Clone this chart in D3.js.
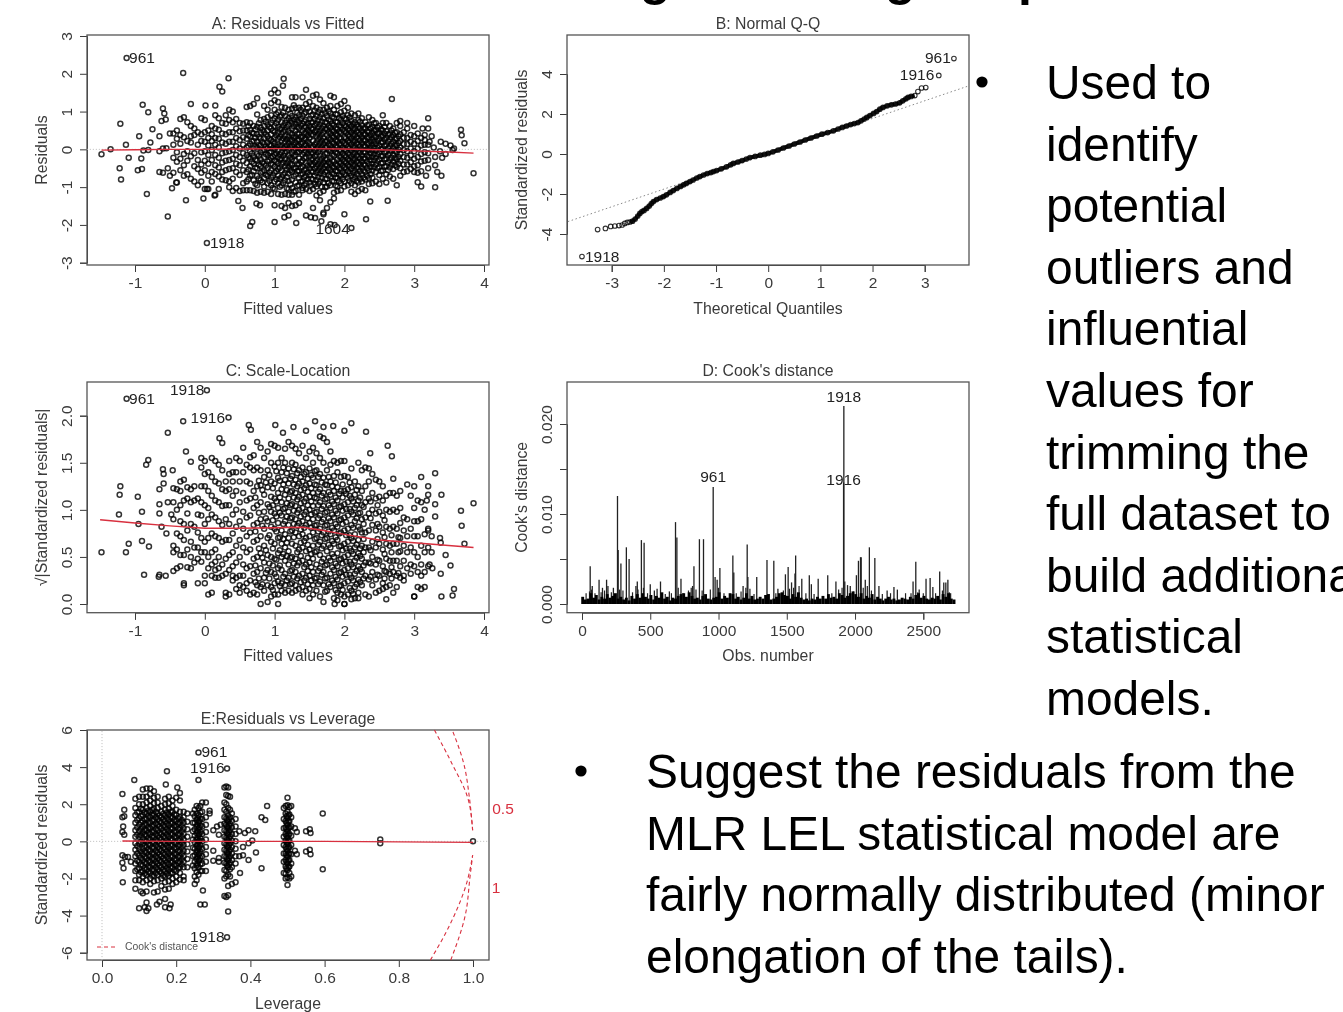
<!DOCTYPE html>
<html><head><meta charset="utf-8"><script src="https://cdn.jsdelivr.net/npm/d3@7"></script>
<style>html,body{margin:0;padding:0;background:#fff;overflow:hidden}svg{display:block}text{font-family:"Liberation Sans",Arial,sans-serif}</style></head><body>
<script>
const fittedTicks=[-1,0,1,2,3,4];
const residLabels=[[-1.12,2.42,"961",2.5,5],[.03,-2.48,"1918",3,5],[2.1,-2.08,"1604",-36,6]];
const residSparse=[[-1.12,2.42],[.03,-2.48],[2.1,-2.08],[-.31,2.02],[.34,1.88],[.21,1.66],[.25,1.53],[1.13,1.87],[1.12,1.68],[-.89,1.18],[-.2,1.2],[.01,1.16],[.15,1.16],[-.81,.98],[-.6,1.08],[-.58,.95],[-.62,.75],[-.56,.79],[-1.21,.68],[-.75,.53],[-.94,.35],[-.65,.35],[-1.13,.12],[-1.35,0],[-1.48,-.13],[-1.09,-.22],[-.91,-.24],[-1.22,-.5],[-1.2,-.8],[-.96,-.55],[-.9,-.52],[-.83,-1.18],[-.53,-1.78],[-.27,-1.35],[-.65,-.6],[-.6,-.62],[-.53,-.5],[-.5,-.7],[-.47,-1.03],[-.41,-.88],[-.78,.18],[-.88,-.03],[-.81,-.02],[-.65,-.05],[-.6,.02],[-.55,.03],[-.5,.42],[3.67,.52],[3.68,.37],[3.72,.16],[3.85,-.63],[3.3,-1],[3.39,-.7],[3.1,-.98],[3.05,-.87],[3.2,.82],[3,.62],[2.68,1.33],[2.62,-1.36],[2.31,-1.85],[2.37,-1.38],[2,-1.72],[.65,-2.03],[.68,-1.92],[.48,-1.37],[.54,-1.55],[1,-1.92],[1.31,-1.95],[1.14,-1.8],[1.2,-1.75],[1.45,-1.75],[1.52,-1.8],[1.58,-1.82],[1.67,-1.9],[1.8,-1.98],[1.86,-2],[1.7,-1.68],[-.02,-1.3],[.14,-1.22],[.03,-1.05],[.74,-1.43],[.79,-1.48],[3.38,.2],[3.45,.15],[3.52,.1],[3.57,.02],[3.55,-.02],[3.45,-.12],[3.4,-.22],[3.37,-.05],[3.33,-.6],[3.3,-.42],[3.2,-.5],[3.17,-.7],[3.22,.2],[3.25,.35],[3.2,.55],[3.28,.05],[3.3,-.2],[3.12,.55],[3.15,.25],[2.55,.9],[2.9,.7],[2.8,.75]];
const residColumns=[
[-.45,[.42,.12,-.22,-.62]],[-.4,[.5,.28,-.08,-.33,-.88]],[-.35,[.8,.38,.15,-.25,-.55]],[-.3,[.85,.32,-.12,-.42,-.7]],[-.25,[.72,.22,-.05,-.3,-.66]],[-.2,[.62,.35,.18,-.18,-.78]],[-.15,[.55,.38,-.1,-.45,-.85]],[-.1,[.45,.12,-.28,-.52,-.95]],[-.05,[.82,.4,.22,-.08,-.4,-.62,-.85]],
[0,[.78,.45,.2,-.05,-.3,-.55,-1.05]],[.05,[.5,.3,.1,-.15,-.38,-.7,-1.05]],[.1,[.62,.4,.22,-.02,-.28,-.6,-.85]],[.15,[.9,.55,.3,.12,-.15,-.42,-.65,-1.2]],[.2,[.82,.52,.28,.05,-.22,-.48,-.72,-1.05]],[.25,[.7,.42,.18,-.1,-.35,-.6,-.8]],[.3,[.9,.68,.4,.15,-.08,-.3,-.55,-.82]],[.35,[1.05,.78,.45,.2,-.05,-.28,-.52,-.85,-1]],
[.4,[1,.72,.45,.2,-.02,-.25,-.5,-.78,-1.1]],[.45,[.8,.55,.3,.08,-.15,-.38,-.6,-1.02]],[.5,[.7,.48,.25,.02,-.2,-.42,-.68,-1.1]],[.55,[.68,.5,.32,.12,-.1,-.3,-.55,-.9,-1.08]],[.6,[1.12,.72,.5,.28,.05,-.15,-.36,-.6,-.85,-1.08]],[.65,[1.15,.7,.52,.35,.15,-.05,-.25,-.45,-.7,-1.08]],[.7,[1.2,.62,.42,.22,.02,-.18,-.38,-.58,-.82,-1.1]],[.75,[1.35,.92,.6,.4,.2,.05,-.12,-.3,-.5,-.7,-.95,-1.15]],[.8,[.78,.58,.44,.28,.1,-.08,-.26,-.44,-.62,-.82,-1.12]],[.85,[1.15,.8,.62,.46,.3,.14,-.02,-.2,-.38,-.56,-.76,-.98,-1.15]],[.9,[1.05,.85,.66,.5,.34,.18,.02,-.15,-.32,-.5,-.7,-.9,-1.12]],
[.95,[1.48,1.22,.9,.7,.55,.4,.25,.1,-.06,-.22,-.38,-.55,-.75,-.95,-1.18]],[1,[1.58,1.3,1.05,.82,.62,.46,.3,.15,0,-.15,-.3,-.46,-.62,-.85,-1.05,-1.48]],[1.05,[1.5,1.25,.98,.78,.6,.44,.28,.12,-.04,-.2,-.36,-.52,-.7,-.9,-1.18]],[1.1,[1.12,.9,.72,.56,.4,.24,.08,-.08,-.24,-.4,-.56,-.74,-.95,-1.2,-1.5]],[1.15,[1.1,.88,.7,.52,.36,.2,.05,-.1,-.26,-.44,-.62,-.82,-1.18,-1.55]],[1.2,[1.05,.82,.66,.5,.34,.18,.02,-.14,-.3,-.46,-.64,-.84,-1.05,-1.2,-1.42]],[1.25,[1.38,1.08,.88,.7,.54,.38,.22,.06,-.1,-.26,-.42,-.6,-.8,-1.02,-1.2,-1.5]],[1.3,[1.38,1.1,.85,.68,.5,.34,.18,.02,-.14,-.3,-.48,-.66,-.88,-1.1,-1.48]],[1.35,[1.1,.9,.72,.56,.4,.24,.08,-.08,-.24,-.4,-.58,-.76,-.95,-1.2,-1.42]],[1.4,[1.38,1.1,.88,.68,.5,.34,.18,.02,-.14,-.3,-.46,-.64,-.84,-1.02,-1.08]],[1.45,[1.58,1.2,.98,.78,.6,.44,.28,.12,-.04,-.2,-.36,-.52,-.7,-.9,-1.05]],[1.5,[1.25,1,.8,.62,.46,.3,.14,-.02,-.18,-.34,-.5,-.68,-.88,-1.1]],[1.55,[1.42,1.15,.92,.72,.54,.38,.22,.06,-.1,-.26,-.42,-.6,-.8,-1.05,-1.55]],[1.6,[1.45,1.1,.88,.68,.5,.34,.18,.02,-.14,-.3,-.46,-.62,-.82,-.98,-1.22]],[1.65,[1.32,1.05,.85,.66,.48,.32,.16,0,-.16,-.32,-.48,-.64,-.85,-1.15,-1.35]],[1.7,[1.22,1.05,.82,.62,.46,.3,.14,-.02,-.18,-.34,-.5,-.66,-.88,-1.1,-1.72]],[1.75,[1.1,.88,.7,.54,.38,.22,.06,-.1,-.26,-.42,-.58,-.78,-.98,-1.55]],
[1.8,[1.42,1.15,.95,.75,.58,.42,.26,.1,-.06,-.22,-.38,-.54,-.72,-.95,-1.4]],[1.85,[1.38,1.05,.82,.64,.48,.32,.16,0,-.16,-.32,-.48,-.66,-.85,-1.15,-1.3]],[1.9,[1.15,.92,.72,.54,.38,.22,.06,-.1,-.26,-.42,-.58,-.76,-.98,-1.1]],[1.95,[1.2,.98,.78,.6,.44,.28,.12,-.04,-.2,-.36,-.52,-.7,-.9,-1.08]],[2,[1.28,1.02,.82,.64,.48,.32,.16,0,-.16,-.32,-.48,-.66,-.85,-.98]],[2.05,[1.1,.9,.7,.54,.38,.22,.06,-.1,-.26,-.42,-.58,-.75,-.95]],[2.1,[.95,.76,.6,.44,.28,.12,-.04,-.2,-.36,-.52,-.7,-.9,-1.12]],[2.15,[.9,.72,.56,.4,.24,.08,-.08,-.24,-.4,-.56,-.74,-.95,-1.18]],[2.2,[.95,.78,.6,.44,.28,.12,-.04,-.2,-.36,-.52,-.7,-.88,-1.1]],[2.25,[.82,.64,.48,.32,.16,0,-.16,-.32,-.48,-.66,-.85,-1.05]],[2.3,[.72,.56,.4,.24,.08,-.08,-.24,-.42,-.6,-.8,-1.08]],[2.35,[.85,.65,.46,.3,.14,-.02,-.2,-.38,-.56,-.76,-.92]],[2.4,[.78,.6,.44,.28,.12,-.04,-.2,-.38,-.56,-.75,-.9]],[2.45,[.7,.5,.32,.14,-.04,-.22,-.4,-.6,-.85]],[2.5,[.62,.44,.28,.1,-.08,-.26,-.46,-.68,-.92]],[2.55,[.7,.5,.34,.18,0,-.18,-.36,-.56,-.78]],[2.6,[.7,.48,.3,.12,-.06,-.24,-.44,-.66,-.88]],[2.65,[.62,.42,.26,.08,-.1,-.28,-.48,-.72]],[2.7,[.55,.38,.2,.04,-.14,-.32,-.52,-.78]],[2.75,[.7,.45,.28,.1,-.08,-.26,-.46,-.95]],[2.8,[.62,.4,.22,.05,-.12,-.3,-.5,-.7]],[2.85,[.45,.3,.14,-.02,-.2,-.4,-.6]],
[2.9,[.55,.3,.14,-.05,-.22,-.4,-.58]],[2.95,[.38,.2,.02,-.16,-.34,-.52]],[3,[.35,.15,-.05,-.25,-.45,-.6]],[3.05,[.42,.22,.02,-.2,-.42,-.62]],[3.1,[.3,.1,-.12,-.32,-.58]],[3.15,[.38,.12,-.08,-.3]],[3.2,[.12,-.1,-.28]]];
const residInner=[
[.625,[.61,.37,.09,-.21,-.53,-.79]],[.675,[.44,.21,-.11,-.33,-.67]],[.725,[.53,.31,.07,-.27,-.49,-.91]],[.775,[.69,.33,.12,-.17,-.41,-.77]],[.825,[.51,.19,-.03,-.35,-.59,-.87]],[.875,[.73,.39,.07,-.13,-.43,-.67]],[.925,[.59,.27,.11,-.09,-.29,-.61,-.83]],[.975,[.77,.49,.21,.03,-.19,-.41,-.69,-1.02]],[1.025,[.93,.69,.37,.07,-.11,-.33,-.57,-.79]],[1.075,[.86,.53,.33,.09,-.13,-.27,-.49,-.78,-.99]],[1.125,[.97,.63,.46,.29,.03,-.17,-.35,-.67,-.89]],[1.175,[.77,.59,.27,.11,-.06,-.37,-.53,-.73,-1.03]],[1.225,[.95,.75,.43,.26,.09,-.22,-.38,-.55,-.93]],[1.275,[1.17,.79,.61,.31,.13,-.03,-.18,-.51,-.71,-1.12]],[1.325,[.97,.77,.59,.41,.26,.1,-.07,-.39,-.57,-.97]],[1.375,[1.04,.81,.63,.33,.15,-.01,-.33,-.49,-.67,-.86]],[1.425,[.94,.74,.57,.42,.27,.1,-.08,-.23,-.55,-.74,-.95]],[1.475,[1.09,.69,.52,.37,.21,.05,-.11,-.43,-.61,-.79]],[1.525,[.89,.71,.55,.39,.07,-.09,-.26,-.41,-.58,-.78,-.96]],[1.575,[1.02,.8,.63,.46,.13,-.03,-.18,-.34,-.51,-.7,-.92]],[1.625,[.98,.77,.59,.41,.26,.09,-.07,-.39,-.55,-.73,-.91]],[1.675,[.93,.74,.56,.39,.23,.07,-.25,-.41,-.57,-.75,-.99]],[1.725,[.96,.72,.54,.21,.05,-.11,-.27,-.43,-.6,-.79,-1]],[1.775,[1.01,.79,.62,.46,.3,.14,-.02,-.34,-.5,-.68,-.89]],[1.825,[.86,.67,.5,.34,.18,.02,-.14,-.3,-.46,-.63,-.84]],[1.875,[.93,.73,.56,.4,.24,.08,-.08,-.4,-.57,-.75,-.96]],[1.925,[.83,.63,.46,.3,.14,-.02,-.18,-.34,-.5,-.67,-.84]],[1.975,[.88,.69,.52,.2,.04,-.12,-.28,-.44,-.61,-.79]],[2.025,[.8,.62,.46,.3,.14,-.02,-.18,-.34,-.5,-.67]],[2.075,[.84,.66,.5,.34,.18,.02,-.14,-.3,-.46,-.63,-.83]],[2.125,[.68,.52,.36,.2,.04,-.12,-.28,-.44,-.61,-.8]],[2.175,[.65,.48,.32,.16,0,-.16,-.32,-.48,-.65,-.84]],[2.225,[.73,.56,.4,.24,.08,-.08,-.24,-.4,-.58,-.78]],[2.275,[.56,.4,.24,.08,-.08,-.24,-.4,-.56,-.75]],[2.325,[.64,.48,.32,.16,0,-.16,-.32,-.5,-.7]],[2.375,[.55,.37,.21,.05,-.11,-.29,-.47,-.66]],[2.425,[.69,.52,.36,.2,.04,-.12,-.29,-.47]],[2.475,[.58,.41,.23,.05,-.13,-.31,-.5]],[2.525,[.53,.36,.19,.01,-.17,-.37,-.57]],[2.575,[.6,.42,.26,.09,-.09,-.27,-.46]],[2.625,[.39,.21,.03,-.15,-.35,-.55]],[2.675,[.5,.33,.15,-.03,-.22,-.4]],[2.725,[.44,.29,.12,-.05,-.23,-.42]],[2.775,[.35,.17,-.01,-.2,-.38]]];
const residSmooth=[[-1.48,-.02],[-1,-.01],[-.5,0],[0,0],[.5,.01],[1,.02],[1.5,.02],[2,.01],[2.5,-.01],[3,-.04],[3.5,-.07],[3.85,-.1]];
const qqPoints=[[-3.57,-5.13],[-3.27,-3.78],[-3.12,-3.72],[-3.02,-3.62],[-2.94,-3.6],[-2.86,-3.58],[-2.8,-3.55],[-2.75,-3.47],[-2.7,-3.42],[-2.65,-3.4],[-2.6,-3.36],[-2.55,-3.25],[-2.5,-3.1],[-2.46,-2.97],[-2.42,-2.88],[-2.38,-2.82],[-2.33,-2.72],[-2.28,-2.6],[-2.24,-2.48],[-2.2,-2.38],[-2.14,-2.28],[-2.07,-2.2],[-2.01,-2.13],[-1.95,-2.04],[-1.88,-1.92],[-1.82,-1.83],[-1.75,-1.72],[-1.68,-1.62],[-1.62,-1.54],[-1.57,-1.47],[-1.5,-1.38],[-1.44,-1.3],[-1.37,-1.2],[-1.31,-1.13],[-1.24,-1.05],[-1.17,-.98],[-1.1,-.93],[-1.05,-.88],[-.99,-.83],[-.9,-.74],[-.8,-.64],[-.72,-.54],[-.67,-.47],[-.58,-.4],[-.5,-.33],[-.42,-.25],[-.35,-.18],[-.25,-.12],[-.15,-.06],[-.07,-.02],[0,.03],[.09,.11],[.19,.2],[.29,.3],[.4,.4],[.5,.5],[.61,.6],[.71,.7],[.82,.8],[.93,.9],[1.03,.99],[1.14,1.07],[1.25,1.16],[1.34,1.25],[1.42,1.33],[1.5,1.4],[1.58,1.47],[1.65,1.52],[1.72,1.57],[1.78,1.66],[1.84,1.75],[1.89,1.83],[1.95,1.92],[2.02,2.03],[2.08,2.12],[2.14,2.24],[2.2,2.33],[2.28,2.41],[2.36,2.46],[2.44,2.5],[2.52,2.56],[2.58,2.66],[2.64,2.76],[2.68,2.83],[2.74,2.88],[2.81,2.92],[2.87,3.12],[2.94,3.3],[3.02,3.32],[3.27,3.93],[3.56,4.77]];
const qqLine=[[-3.84,-3.38],[3.86,3.42]];
const qqLabels=[[3.56,4.77,"961",-29,4],[3.27,3.93,"1916",-39,5],[-3.57,-5.13,"1918",3,5]];
const scaleSparse=[[-1.12,2.18],[.03,2.27],[.34,1.98],[-.31,1.94],[-.53,1.82],[.63,1.9],[.66,1.85],[1.01,1.9],[1.12,1.82],[1.27,1.88],[1.45,1.84],[1.58,1.94],[1.7,1.88],[1.84,1.89],[2.1,1.92],[2,1.84],[2.31,1.83],[2.37,1.6],[2.62,1.68],[2.68,1.57],[.21,1.76],[.25,1.71],[-.27,1.62],[-.84,1.48],[-.81,1.53],[-.2,1.51],[-1.21,1.25],[-1.22,1.16],[-.96,1.14],[-.9,.98],[-1.23,.95],[-.95,.85],[-1.09,.64],[-1.13,.55],[-.9,.67],[-.8,.61],[-1.48,.55],[-.87,.31],[-.66,.29],[-.65,.31],[-.56,.3],[-.6,1.43],[-.59,1.38],[-.59,1.28],[-.46,1.42],[3.67,.99],[3.68,.83],[3.72,.64],[3.85,1.07],[3.38,.32],[3.45,.52],[3.52,.41],[3.57,.16],[3.55,.09],[3.39,.08],[3,.08],[3.3,1.39],[3.1,1.35],[3.39,1.16],[3.25,.55],[3.3,1.06],[3.3,.93],[3.37,.7],[3.38,.65],[3.2,.8],[3.25,.72],[3.22,.42],[3.26,.38],[3.18,1.1],[3.2,1.25],[.8,0],[1.05,0],[1.86,0],[2,0],[-.55,.75],[-.62,.82],[-.65,.96],[-.65,1.06],[-.65,1.22],[-.53,1.08],[-.48,.95]];
const scaleColumns=[
[-.45,[1.23,1.08,.9,.62,.55,.35]],[-.4,[1.22,1,.75,.58,.38]],[-.35,[1.3,1.2,1.05,.88,.72,.52,.4]],[-.3,[1.32,1.1,.85,.68,.52,.22,.2]],[-.25,[1.24,1.12,.96,.78,.58,.39]],[-.2,[1.22,1.08,.85,.66,.5,.38]],[-.15,[1.25,1.1,.82,.6,.44]],[-.1,[1.12,.95,.76,.6,.48,.22]],[-.05,[1.55,1.45,1.25,1.08,.94,.7,.55,.45]],[0,[1.52,1.38,1.25,1.05,.85,.66,.55,.3,.22]],[.05,[1.4,1.2,1.02,.9,.7,.5,.38,.1]],[.1,[1.55,1.35,1.15,.95,.75,.55,.42,.3,.12]],[.15,[1.52,1.3,1.1,.92,.72,.58,.45,.36,.28]],[.2,[1.48,1.28,1.08,.88,.7,.5,.38,.28]],[.25,[1.42,1.22,1.04,.84,.66,.42,.3]],[.3,[1.3,1.2,1.05,.9,.68,.48,.32,.12,.08]],[.35,[1.52,1.38,1.22,1.05,.85,.68,.52,.36,.1]],[.4,[1.4,1.3,1.15,.95,.75,.55,.4,.3,.25]],[.45,[1.55,1.4,1.2,1,.82,.62,.44,.28,.16]],[.5,[1.52,1.3,1.08,.88,.68,.5,.3,.2,.12]],[.55,[1.66,1.4,1.18,.98,.8,.6,.42,.3,.18]],[.6,[1.48,1.3,1.1,.92,.72,.55,.38,.22,.14]],[.65,[1.56,1.45,1.28,1.12,.94,.76,.58,.4,.25,.1]],[.7,[1.58,1.42,1.2,1.02,.84,.66,.48,.32,.12]],[.75,[1.72,1.45,1.25,1.05,.86,.68,.5,.34,.2,.1]],[.8,[1.66,1.42,1.26,1.08,.9,.72,.54,.38,.18]],[.85,[1.55,1.35,1.16,.98,.8,.62,.44,.28,.14]],[.9,[1.62,1.42,1.24,1.06,.88,.7,.52,.36,.2,.02]],[.95,[1.7,1.5,1.3,1.14,.98,.82,.66,.5,.34,.18,.08]],[1,[1.68,1.46,1.28,1.12,.96,.8,.64,.48,.32,.22,.1]],[1.05,[1.66,1.5,1.34,1.18,1.02,.86,.7,.54,.38,.24,.1]],[1.1,[1.55,1.4,1.22,1.08,.94,.78,.64,.5,.36,.22,.14]],[1.15,[1.65,1.5,1.32,1.16,1.02,.88,.74,.6,.46,.32,.2,.12]],[1.2,[1.72,1.44,1.28,1.12,.98,.84,.7,.56,.42,.28,.14]],[1.25,[1.68,1.5,1.36,1.2,1.06,.92,.78,.64,.5,.36,.22,.12]],[1.3,[1.65,1.48,1.32,1.18,1.04,.9,.76,.62,.48,.34,.2,.14]],[1.35,[1.6,1.42,1.28,1.14,1,.86,.72,.58,.44,.3,.16]],[1.4,[1.68,1.45,1.3,1.16,1.02,.88,.74,.6,.46,.32,.18,.1]],[1.45,[1.55,1.4,1.26,1.12,.98,.84,.7,.56,.42,.28,.14]],[1.5,[1.62,1.44,1.28,1.14,1,.86,.72,.58,.44,.3,.16,.06]],[1.55,[1.66,1.5,1.34,1.18,1.04,.9,.76,.62,.48,.34,.2,.1]],[1.6,[1.6,1.42,1.26,1.12,.98,.84,.7,.56,.42,.28,.14]],[1.65,[1.78,1.55,1.38,1.22,1.08,.94,.8,.66,.52,.38,.24,.08]],[1.7,[1.76,1.5,1.34,1.18,1.04,.9,.76,.62,.48,.34,.2,.02]],[1.75,[1.72,1.42,1.26,1.12,.98,.84,.7,.56,.42,.28,.14]],[1.8,[1.62,1.48,1.3,1.16,1.02,.88,.74,.6,.46,.32,.18]],[1.85,[1.52,1.36,1.2,1.06,.92,.78,.64,.5,.36,.22,.06]],[1.9,[1.5,1.4,1.24,1.1,.96,.82,.68,.54,.4,.26,.12,.04]],[1.95,[1.52,1.35,1.2,1.04,.9,.76,.62,.48,.34,.2,.1]],[2,[1.52,1.36,1.2,1.06,.92,.78,.64,.5,.36,.22,.08,0]],[2.05,[1.35,1.22,1.08,.94,.8,.66,.52,.38,.24,.1]],[2.1,[1.44,1.24,1.12,.98,.84,.7,.56,.42,.28,.14,.05]],[2.15,[1.3,1.16,1.02,.88,.74,.6,.46,.32,.18,.06]],[2.2,[1.5,1.25,1.1,.96,.82,.68,.54,.4,.26,.12,.06]],[2.25,[1.42,1.2,1.05,.9,.76,.62,.48,.34,.2]],[2.3,[1.45,1.25,1.08,.92,.76,.6,.44,.3,.1]],[2.35,[1.44,1.3,1.12,.96,.78,.6,.44,.26,.08]],[2.4,[1.38,1.18,1,.84,.66,.5,.34,.2]],[2.45,[1.32,1.12,.96,.78,.6,.42,.26,.12]],[2.5,[1.3,1.14,.98,.82,.64,.46,.3,.14]],[2.55,[1.25,1.1,.94,.76,.58,.4,.22,.16]],[2.6,[1.15,1,.82,.64,.48,.34,.18,.05]],[2.65,[1.18,.98,.8,.62,.46,.32,.2]],[2.7,[1.33,1.18,1,.82,.64,.46,.34,.12]],[2.75,[1.15,.98,.8,.64,.46,.3,.18]],[2.8,[1.2,1.02,.86,.7,.56,.4,.28]],[2.85,[.92,.78,.62,.46,.3,.25]],[2.9,[1.27,.9,.72,.55,.38]],[2.95,[1.15,.8,.6,.42,.32]],[3,[1.25,1.02,.88,.72,.55,.4,.08]],[3.05,[1.1,.88,.72,.5,.34,.18]],[3.1,[1.08,.9,.62,.42,.3,.16]],[3.15,[1,.74,.55,.34,.18]],[3.2,[1.16,.78,.6,.4]]];
const scaleInner=[
[.725,[1.13,.77,.41,.23]],[.775,[1.31,.97,.59,.27]],[.825,[1.21,.83,.49,.21]],[.875,[1.29,.91,.57,.33]],[.925,[1.37,1.03,.73,.43,.27]],[.975,[1.23,1.05,.89,.59,.41,.15]],[1.025,[1.41,1.09,.93,.77,.47,.29]],[1.075,[1.31,1.13,.97,.71,.57,.41,.19]],[1.125,[1.45,1.27,1.01,.85,.69,.53,.29]],[1.175,[1.39,1.21,1.07,.93,.65,.51,.25]],[1.225,[1.33,1.19,1.05,.91,.77,.49,.35,.21]],[1.275,[1.43,1.27,1.13,.99,.85,.71,.43,.29]],[1.325,[1.39,1.25,1.11,.97,.83,.55,.41,.27]],[1.375,[1.35,1.21,1.07,.93,.79,.65,.51,.23]],[1.425,[1.38,1.23,1.09,.95,.81,.67,.39,.25]],[1.475,[1.33,1.19,1.05,.91,.63,.49,.35,.21]],[1.525,[1.37,1.23,1.09,.95,.81,.53,.39,.25]],[1.575,[1.41,1.27,1.13,.97,.83,.69,.55,.27]],[1.625,[1.35,1.19,1.05,.91,.77,.63,.35,.21]],[1.675,[1.29,1.15,1.01,.87,.73,.59,.45,.31]],[1.725,[1.27,1.11,.97,.83,.69,.41,.27,.13]],[1.775,[1.35,1.19,1.05,.91,.77,.63,.49,.21]],[1.825,[1.25,1.09,.95,.81,.67,.53,.39,.25]],[1.875,[1.29,1.13,.99,.85,.71,.43,.29,.15]],[1.925,[1.17,1.03,.89,.75,.61,.47,.33,.19]],[1.975,[1.27,1.13,.99,.85,.57,.43,.29,.15]],[2.025,[1.17,1.01,.87,.73,.59,.45,.31]],[2.075,[1.29,1.15,1.01,.73,.59,.45,.31,.17]],[2.125,[1.09,.95,.81,.67,.53,.39,.25,.11]],[2.175,[1.21,1.05,.91,.63,.49,.35,.21]],[2.225,[1.13,.97,.79,.59,.51,.37,.23]],[2.275,[1.03,.85,.69,.55,.41,.27]],[2.375,[1.09,.91,.57,.43,.29]],[2.475,[1.05,.85,.69,.47,.31]],[2.575,[.89,.71,.53,.35,.27]],[2.675,[.73,.55,.39,.27]],[2.775,[.71,.55,.33]]];
const scaleSmooth=[[-1.5,.895],[-1,.86],[-.5,.83],[0,.805],[.5,.805],[1,.81],[1.4,.815],[1.7,.78],[2,.74],[2.5,.68],[3,.65],[3.85,.6]];
const scaleLabels=[[-1.12,2.18,"961",2.5,5],[.03,2.27,"1918",-37,5],[.34,1.98,"1916",-38,5]];
const cookTicks=[0,.005,.01,.015,.02];
const cookSpikes=[[260,.012],[265,.006],[285,.0045],[325,.0063],[345,.005],[60,.0042],[75,.002],[125,.0027],[150,.0018],[180,.0027],[190,.002],[230,.0018],[435,.0071],[455,.0068],[395,.002],[405,.0025],[500,.0022],[530,.0015],[550,.0017],[575,.0025],[685,.0091],[695,.0074],[640,.0014],[725,.0028],[820,.0042],[810,.002],[860,.0072],[890,.0072],[961,.013],[975,.003],[990,.0027],[1010,.004],[1105,.0054],[1112,.0035],[1180,.002],[1210,.0066],[1215,.003],[1280,.003],[1355,.0049],[1405,.0048],[1435,.0017],[1490,.0033],[1510,.0041],[1535,.0024],[1565,.0054],[1560,.0034],[1610,.0028],[1665,.0032],[1680,.0022],[1730,.0028],[1800,.0032],[1860,.0025],[1916,.0135],[1918,.022],[1925,.0025],[1945,.0021],[1965,.002],[2010,.0032],[2025,.0048],[2040,.0052],[2045,.0052],[2075,.0027],[2105,.0063],[2145,.0051],[2175,.002],[2235,.0015],[2285,.0019],[2310,.0016],[2425,.0025],[2445,.0047],[2470,.0016],[2520,.0028],[2550,.0029],[2570,.0019],[2620,.0036],[2650,.0024],[2665,.0024],[2680,.0027],[2700,.0012]];
const cookMid=[[30,.0012],[55,.0014],[70,.0016],[95,.0012],[140,.0013],[165,.0015],[215,.0013],[275,.0016],[300,.0015],[370,.0013],[410,.0016],[450,.0018],[480,.0012],[610,.0011],[655,.0012],[705,.0018],[740,.0012],[780,.0015],[800,.0018],[835,.0016],[880,.0015],[940,.0016],[1000,.0018],[1040,.0012],[1130,.0012],[1165,.0014],[1200,.0018],[1230,.0017],[1260,.0011],[1370,.0011],[1420,.0012],[1475,.0015],[1520,.0017],[1550,.0018],[1590,.002],[1640,.0012],[1700,.0011],[1830,.0012],[1880,.0016],[1905,.0018],[1990,.0014],[2060,.0018],[2090,.002],[2120,.0015],[2200,.0011],[2260,.0012],[2370,.0012],[2410,.0012],[2460,.0013],[2500,.0012],[2590,.0012],[2640,.0015],[2690,.0013]];
const cookBase=[.0008,.0005,.0006,.0012,.0007,.001,.0005,.0008,.0006,.0011,.0007,.0009,.0012,.0006,.0008,.0005,.0007,.0004,.0009,.0006,.0011,.0007,.0012,.0008,.0006,.001,.0005,.0009,.0007,.0013,.0006,.0008,.0004,.0007,.0006,.0009,.0011,.0012,.0008,.0013,.0009,.0006,.0007,.0005,.0009,.0011,.0006,.0005,.0007,.0008,.0013,.0006,.0009,.0007,.0012,.0011,.0006,.0008,.0005,.0007,.0012,.0006,.0009,.0005,.0006,.0008,.0006,.001,.0011,.0005,.0006,.0008,.0012,.0013,.001,.0009,.0006,.0011,.0008,.0013,.0007,.0005,.0006,.0004,.0006,.0005,.0008,.0006,.0009,.0006,.0011,.0007,.0008,.0006,.0012,.001,.0007,.0009,.0012,.0014,.0011,.0008,.0012,.0006,.0009,.0007,.0011,.0005,.0008,.0006,.0004,.0006,.0008,.0005,.0006,.0004,.0005,.0007,.0006,.0005,.0008,.0006,.001,.0012,.0007,.0009,.0006,.0005,.0007,.0006,.0009,.0005,.0011,.0008,.0012,.0006,.0005];
const cookLabels=[[1918,.022,"1918",0,-4],[961,.013,"961",0,-5],[1916,.0135,"1916",0,2]];
const leverageSparse=[[.26,4.79],[.337,3.93],[.337,-5.17],[.175,3.78],[.087,3.3],[.172,3.07],[.26,3.3],[.203,2.9],[.055,2.55],[.06,1.7],[.055,1.3],[.06,1.35],[.057,.8],[.055,.5],[.06,.35],[.055,-.75],[.062,-.85],[.055,-1.15],[.058,-1.45],[.056,-2.2],[.07,-.85],[.078,-1.1],[.09,-2.55],[.105,-2.7],[.1,-3.6],[.115,-3.55],[.12,-3.75],[.125,-3.6],[.12,-3.3],[.148,-3.4],[.155,-3.25],[.17,-3.1],[.17,-3.55],[.185,-3.4],[.182,-3.6],[.265,-3.4],[.277,-3.4],[.272,-2.65],[.34,-3.78],[.34,-2.4],[.35,-2.3],[.36,-2.2],[.372,-1.7],[.43,-1.45],[.445,1.9],[.43,1.3],[.44,1.15],[.595,1.5],[.595,-1.5],[.55,.55],[.56,.65],[.562,.45],[.55,-.55],[.56,-.45],[.562,-.7],[.52,.7],[.525,.5],[.525,-.7],[.52,-.5],[.75,.1],[.75,-.1],[1,0],[.3,.6],[.31,.8],[.32,.9],[.315,.35],[.315,-.9],[.3,-1.05],[.315,-1.1],[.3,-.5],[.37,.55],[.385,.45],[.395,.6],[.413,.55],[.405,.05],[.395,-.1],[.38,-.3],[.37,-.8],[.38,-.75],[.395,-1],[.415,-.6],[.5,2.35],[.5,-2.35],[.29,1.5],[.29,1.65],[.28,2.1]];
const leverageColumns=[
[.09,[2.3,1.8,1.4,1,.6,.25,-.1,-.45,-.8,-1.2,-1.6,-2.1]],[.1,[2.4,2,1.6,1.25,.9,.55,.25,-.1,-.4,-.75,-1.1,-1.45,-1.8,-2.1]],[.11,[2.8,2.4,2,1.7,1.4,1.1,.8,.5,.2,-.1,-.4,-.7,-1,-1.3,-1.6,-1.9,-2.2,-2.8]],[.12,[2.85,2.4,2.1,1.8,1.5,1.2,.9,.6,.3,0,-.3,-.6,-.9,-1.2,-1.5,-1.8,-2.1,-2.7]],[.13,[2.85,2.55,2.2,1.9,1.6,1.3,1,.7,.4,.1,-.2,-.5,-.8,-1.1,-1.4,-1.7,-2,-2.3]],[.14,[2.7,2.35,2.05,1.75,1.45,1.15,.85,.55,.25,-.05,-.35,-.65,-.95,-1.25,-1.55,-1.85,-2.15,-2.75]],[.15,[2.4,2.1,1.8,1.5,1.2,.9,.6,.3,0,-.3,-.6,-.9,-1.2,-1.5,-1.8,-2.1,-2.7]],[.16,[1.9,1.6,1.3,1,.7,.4,.1,-.2,-.5,-.8,-1.1,-1.4,-1.7,-2,-2.4]],[.17,[2.3,2,1.7,1.4,1.1,.8,.5,.2,-.1,-.4,-.7,-1,-1.3,-1.6,-1.9,-2.2,-2.6]],[.18,[2.4,2.05,1.75,1.45,1.15,.85,.55,.25,-.05,-.35,-.65,-.95,-1.25,-1.55,-1.85,-2.15,-2.55]],[.19,[2.2,1.9,1.6,1.3,1,.7,.4,.1,-.2,-.5,-.8,-1.1,-1.4,-1.7,-2,-2.3]],[.2,[2.35,1.7,1.4,1.1,.8,.5,.2,-.1,-.4,-.7,-1,-1.3,-1.6,-1.9,-2.2]],[.21,[2.6,2.2,1.6,1.3,1,.7,.4,.1,-.2,-.5,-.8,-1.1,-1.4,-1.7,-2.05]],[.22,[1.6,1.3,1,.7,.4,.1,-.2,-.5,-.8,-1.1,-1.4,-1.9,-2.1]],[.23,[1.5,1.05,.65,.25,-.15,-.55,-.95,-1.4]],
[.245,[1.5,1,.55,.1,-.35,-.8,-1.3]],[.25,[1.7,1.35,1,.65,.3,-.05,-.4,-.75,-1.1,-1.45,-1.9,-2.3]],[.255,[1.9,1.5,1.15,.8,.45,.1,-.25,-.6,-.95,-1.3,-1.65,-2.1]],[.26,[1.8,1.4,1.05,.7,.35,0,-.35,-.7,-1.05,-1.4,-1.8]],[.265,[1.9,1.55,1.2,.85,.5,.15,-.2,-.55,-.9,-1.25,-1.6]],[.27,[2.1,1.6,1.2,.8,.4,0,-.4,-.8,-1.2,-1.6]],[.28,[1.3,.9,.5,.1,-.3,-.7,-1.1,-1.6]],
[.33,[2.9,2.1,1.7,1.3,.95,.6,.25,-.1,-.45,-.8,-1.15,-1.55,-2,-2.95]],[.335,[2.95,2.5,2,1.6,1.25,.9,.55,.2,-.15,-.5,-.85,-1.2,-1.6,-1.9,-3]],[.34,[2.9,2.45,1.8,1.4,1.05,.7,.35,0,-.35,-.7,-1.05,-1.4,-1.8,-2.9]],[.345,[2.4,1.7,1.3,.95,.6,.25,-.1,-.45,-.8,-1.15,-1.5,-1.9]],[.35,[1.5,1.1,.75,.4,.05,-.3,-.65,-1,-1.4]],[.36,[1.2,.8,.4,0,-.4,-.8,-1.2]],
[.49,[1.8,1.2,.7,.25,-.2,-.65,-1.1,-1.7]],[.495,[1.9,1.5,1.1,.75,.4,.05,-.3,-.65,-1,-1.35,-1.75,-2]],[.5,[1.95,1.6,1.25,.9,.55,.2,-.15,-.5,-.85,-1.2,-1.55,-1.95]],[.505,[1.85,1.45,1.1,.75,.4,.05,-.3,-.65,-1,-1.35,-1.7,-2]],[.51,[1.9,1.3,.8,.3,-.2,-.7,-1.2,-1.9]]];
const leverageInner=[
[.095,[1.55,1.15,.75,.35,-.25,-.65,-1.05,-1.5]],[.105,[1.75,1.35,1.02,.67,.33,-.03,-.55,-.9,-1.25,-1.65]],[.115,[1.55,1.22,.93,.62,.35,.05,-.25,-.55,-.85,-1.15,-1.45,-1.75]],[.125,[1.65,1.35,1.03,.73,.45,.15,-.15,-.45,-.75,-1.05,-1.35,-1.65]],[.135,[1.7,1.42,1.13,.83,.52,.25,-.05,-.35,-.65,-.95,-1.25,-1.55,-1.85]],[.145,[1.6,1.3,.98,.68,.4,.1,-.2,-.5,-.8,-1.1,-1.4,-1.7]],[.155,[1.38,1.08,.78,.45,.18,-.13,-.43,-.72,-1.02,-1.32,-1.62]],[.165,[1.48,1.16,.85,.55,.26,-.04,-.34,-.64,-.94,-1.25,-1.55,-1.85]],[.175,[1.55,1.25,.95,.65,.35,.05,-.25,-.55,-.85,-1.15,-1.45,-1.75]],[.185,[1.6,1.3,.98,.68,.38,.08,-.22,-.52,-.82,-1.12,-1.42,-1.72]],[.195,[1.45,1.15,.85,.55,.25,-.05,-.35,-.65,-.95,-1.25,-1.55]],[.205,[1.25,.95,.65,.35,.05,-.25,-.55,-.85,-1.15,-1.45]],[.215,[1.15,.85,.55,.25,-.05,-.35,-.65,-.95,-1.25]],[.2575,[1.25,.9,.55,.2,-.15,-.5,-.85,-1.2]],[.2625,[1.1,.75,.4,.05,-.3,-.65,-1]],[.3375,[1.15,.8,.45,.1,-.25,-.6,-.95,-1.3]],[.3425,[1.2,.85,.5,.15,-.2,-.55,-.9,-1.25]],[.4975,[1.35,1,.65,.3,-.05,-.4,-.75,-1.1,-1.45]],[.5025,[1.4,1.05,.7,.35,0,-.35,-.7,-1.05,-1.4]]];
const leverageTrend=[[.055,.02],[.2,0],[.4,0],[.6,0],[.8,-.03],[1,-.05]];
const cookHalfUp=[[.896,6],[.943,4.2],[.985,2.4],[.999,.6]];
const cookOneUp=[[.946,5.9],[.975,4.2],[.99,2.4],[.999,.6]];
const cookHalfDown=[[.885,-6.4],[.935,-4.6],[.985,-2.1],[.999,-.75]];
const cookOneDown=[[.94,-6.4],[.98,-3.9],[.992,-1.9],[.999,-.75]];
const leverageLabels=[[.26,4.79,"961",3,5],[.337,3.93,"1916",-37,5],[.337,-5.17,"1918",-37,5]];
const sideLines=["Used to","identify","potential","outliers and","influential","values for","trimming the","full dataset to","build additional","statistical","models."];
const bottomLines=["Suggest the residuals from the","MLR LEL statistical model are","fairly normally distributed (minor","elongation of the tails)."];
const clippedHeading=[["g",640],["g",885],["p",1018]];

const INK="#3a3a3a",RED="#d8303f",FS=15.5;
const svg=d3.select("body").append("svg").attr("width",1343).attr("height",1012).attr("viewBox","0 0 1343 1012");
const flat=c=>c.flatMap(([x,ys])=>ys.map(y=>[x,y]));
function panel(o){
  const x=d3.scaleLinear().domain(o.xd).range(o.xr),y=d3.scaleLinear().domain(o.yd).range(o.yr);
  const g=svg.append("g").style("filter","blur(0.35px)");
  const [L,R,T,B]=o.box;
  const s=(v)=>(o.fmt?o.fmt(v):String(v));
  const ax=g.append("g").attr("transform",`translate(0,${B})`).call(d3.axisBottom(x).tickValues(o.xt).tickSize(7).tickPadding(5).tickFormat(o.xf||(d=>String(d))));
  const ay=g.append("g").attr("transform",`translate(${L},0)`).call(d3.axisLeft(y).tickValues(o.yt).tickSize(7).tickPadding(3).tickFormat(s));
  [ax,ay].forEach(a=>{a.selectAll("path").attr("stroke",INK).attr("stroke-width",1);a.selectAll("line").attr("stroke",INK);a.selectAll("text").attr("fill",INK).attr("font-size",FS).attr("font-family",'"Liberation Sans",Arial,sans-serif');});
  ay.selectAll("text").attr("transform","rotate(-90)").attr("x",0).attr("dy",0).attr("y",-15.5).attr("text-anchor","middle");
  g.append("rect").attr("x",L).attr("y",T).attr("width",R-L).attr("height",B-T).attr("fill","none").attr("stroke","#555").attr("stroke-width",1.3);
  const lab=(t,a,b,rot)=>g.append("text").attr("text-anchor","middle").attr("fill",INK).attr("font-size",15.8).attr("transform",`translate(${a},${b})${rot?" rotate(-90)":""}`).text(t);
  lab(o.title,(L+R)/2,T-6.5);
  lab(o.xlab,(L+R)/2,B+48.5);
  lab(o.ylab,L-40,(T+B)/2,true);
  return {g,x,y};
}
const dots=(p,d,r=2.5,op=.8)=>p.g.append("g").selectAll("circle").data(d).join("circle").attr("cx",a=>p.x(a[0])).attr("cy",a=>p.y(a[1])).attr("r",r).attr("fill","none").attr("stroke","#000").attr("stroke-opacity",op).attr("stroke-width",1.5);
const path=(p,d,c,w,dash)=>p.g.append("path").datum(d).attr("d",d3.line().x(a=>p.x(a[0])).y(a=>p.y(a[1]))).attr("fill","none").attr("stroke",c).attr("stroke-width",w).attr("stroke-dasharray",dash||null);
const notes=(p,d)=>p.g.append("g").selectAll("text").data(d).join("text").attr("x",a=>p.x(a[0])+a[3]).attr("y",a=>p.y(a[1])+a[4]).attr("font-size",FS).attr("fill","#222").text(a=>a[2]);

// A
const A=panel({title:"A: Residuals vs Fitted",xlab:"Fitted values",ylab:"Residuals",box:[87,489,35,265],xd:[-1,4],xr:[135,484],yd:[3,-3],yr:[36,262.7],xt:fittedTicks,yt:[-3,-2,-1,0,1,2,3]});
path(A,[[-1.69,0],[4.07,0]],"#bbb",1,"1 2");
dots(A,residSparse.concat(flat(residColumns),flat(residInner)));
path(A,residSmooth,RED,1.4);
notes(A,residLabels);
// B
const Q=panel({title:"B: Normal Q-Q",xlab:"Theoretical Quantiles",ylab:"Standardized residuals",box:[567,969,35,265],xd:[-3,3],xr:[611.7,924.7],yd:[4,-4],yr:[74,234],xt:[-3,-2,-1,0,1,2,3],yt:[-4,-2,0,2,4]});
path(Q,qqLine,"#888",1,"1.5 2.5");
path(Q,qqPoints.slice(9,86),"#111",4);
dots(Q,qqPoints,2.3,.8).attr("stroke-width",1.1);
notes(Q,qqLabels);
// C
const C=panel({title:"C: Scale-Location",xlab:"Fitted values",ylab:"√|Standardized residuals|",box:[87,489,382,612.7],xd:[-1,4],xr:[135,484],yd:[2,0],yr:[415.7,604],xt:fittedTicks,yt:[0,.5,1,1.5,2],fmt:d3.format(".1f")});
dots(C,scaleSparse.concat(flat(scaleColumns),flat(scaleInner)));
path(C,scaleSmooth,RED,1.4);
notes(C,scaleLabels);
// D
const D=panel({title:"D: Cook's distance",xlab:"Obs. number",ylab:"Cook's distance",box:[567,969,382,612.7],xd:[0,2500],xr:[582,923.3],yd:[.02,0],yr:[424,604],xt:[0,500,1000,1500,2000,2500],yt:cookTicks,fmt:v=>(Math.round(v*1000)%10===0?d3.format(".3f")(v):"")});
const bars=(d,w,c)=>D.g.append("g").selectAll("line").data(d).join("line").attr("x1",a=>D.x(a[0])).attr("x2",a=>D.x(a[0])).attr("y1",D.y(0)).attr("y2",a=>D.y(a[1])).attr("stroke",c).attr("stroke-width",w);
bars(cookSpikes,1.3,"#222");
bars(cookMid,1.2,"#222");
bars(cookBase.map((v,i)=>[i*20+5,v]),2.9,"#000");
notes(D,cookLabels).attr("text-anchor","middle");
// E
const E=panel({title:"E:Residuals vs Leverage",xlab:"Leverage",ylab:"Standardized residuals",box:[87,489,730,960],xd:[0,1],xr:[102,473],yd:[6,-6],yr:[730,952.7],xt:[0,.2,.4,.6,.8,1],xf:d3.format(".1f"),yt:[-6,-4,-2,0,2,4,6]});
path(E,[[-.04,0],[1.04,0]],"#bbb",1,"1 2");
path(E,[[0,-6.4],[0,6]],"#bbb",1,"1 2");
dots(E,leverageSparse.concat(flat(leverageColumns),flat(leverageInner)));
path(E,leverageTrend,RED,1.3);
[cookHalfUp,cookOneUp,cookHalfDown,cookOneDown].forEach(c=>path(E,c,RED,1.1,"4 3").attr("d",d3.line().x(a=>E.x(a[0])).y(a=>E.y(a[1])).curve(d3.curveMonotoneY)));
notes(E,leverageLabels);
E.g.append("text").attr("x",503).attr("y",814).attr("text-anchor","middle").attr("font-size",FS).attr("fill",RED).text("0.5");
E.g.append("text").attr("x",496).attr("y",893).attr("text-anchor","middle").attr("font-size",FS).attr("fill",RED).text("1");
E.g.append("line").attr("x1",97).attr("x2",117).attr("y1",947).attr("y2",947).attr("stroke",RED).attr("stroke-width",1).attr("stroke-dasharray","4 3");
E.g.append("text").attr("x",125).attr("y",950).attr("font-size",10.4).attr("fill","#555").text("Cook's distance");

// Slide text
const T=svg.append("g").attr("fill","#000").attr("font-size",47.9);
T.selectAll("text.a").data(sideLines).join("text").attr("x",1046).attr("y",(d,i)=>99+i*61.6).text(d=>d);
T.selectAll("text.b").data(bottomLines).join("text").attr("x",646).attr("y",(d,i)=>788+i*61.6).text(d=>d);
svg.append("circle").attr("cx",982).attr("cy",82).attr("r",5.6);
svg.append("circle").attr("cx",581).attr("cy",771).attr("r",5.6);
svg.append("g").selectAll("text").data(clippedHeading).join("text").attr("x",d=>d[1]).attr("y",-5).attr("font-size",50).attr("font-weight",700).attr("fill","#000").text(d=>d[0]);
</script></body></html>
